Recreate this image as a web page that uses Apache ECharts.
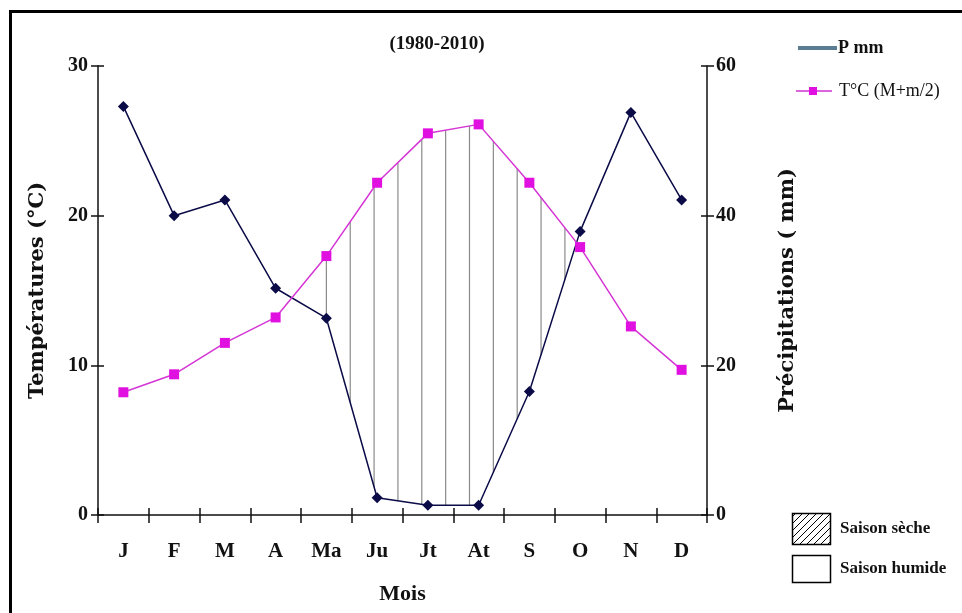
<!DOCTYPE html>
<html>
<head>
<meta charset="utf-8">
<script src="https://cdn.jsdelivr.net/npm/echarts@6/dist/echarts.min.js"></script>
<style>
  html, body { margin: 0; padding: 0; background: #fff; }
  #chart { width: 962px; height: 613px; }
</style>
</head>
<body>
<div id="chart"></div>
<script>
// mois
const months = ['J', 'F', 'M', 'A', 'Ma', 'Ju', 'Jt', 'At', 'S', 'O', 'N', 'D']
// T°C (M+m/2)
const tempC = [8.2, 9.4, 11.5, 13.2, 17.3, 22.2, 25.5, 26.1, 22.2, 17.9, 12.6, 9.7]
// P mm
const precipMm = [54.6, 40.0, 42.1, 30.3, 26.3, 2.3, 1.3, 1.3, 16.5, 37.9, 53.8, 42.1]
const tempTicks = [0, 10, 20, 30]
const precipTicks = [0, 20, 40, 60]

const serif = 'Liberation Serif'
const ink = '#111'

// traits verticaux de la saison seche (T > P/2)
const hatchFrom = 4
const hatchTo = 8.7
const hatchStep = 0.47
const hatchPos = []
for (let p = hatchFrom; p <= hatchTo + 1e-9; p += hatchStep) hatchPos.push(p)

function interp(arr, p) {
  const i = Math.floor(p)
  const f = p - i
  if (i + 1 >= arr.length) return arr[arr.length - 1]
  return arr[i] + (arr[i + 1] - arr[i]) * f
}

const chart = echarts.init(document.getElementById('chart'))

const axisLine = { show: true, lineStyle: { color: ink, width: 1.5 } }
const nameStyle = { fontFamily: 'DejaVu Serif', fontWeight: 'bold', fontSize: 21, color: ink }

chart.setOption({
  animation: false,
  grid: { left: 98, right: 255, top: 66, bottom: 98 },
  graphic: [
    // cadre
    { type: 'polyline', shape: { points: [[10.5, 613], [10.5, 11.5], [962, 11.5]] }, style: { stroke: '#000', lineWidth: 3, fill: null } },
    { type: 'text', x: 437, y: 44, style: { text: '(1980-2010)', font: 'bold 19px "Liberation Serif"', fill: ink, align: 'center', verticalAlign: 'middle' } },
    // legende
    { type: 'line', shape: { x1: 798, y1: 48, x2: 837, y2: 48 }, style: { stroke: '#5a7d94', lineWidth: 4 } },
    { type: 'text', x: 838, y: 48, style: { text: 'P mm', font: 'bold 18px "Liberation Serif"', fill: ink, verticalAlign: 'middle' } },
    { type: 'line', shape: { x1: 796, y1: 91, x2: 832, y2: 91 }, style: { stroke: '#d030d0', lineWidth: 1.5 } },
    { type: 'rect', shape: { x: 809, y: 87, width: 8, height: 8 }, style: { fill: '#e010e0' } },
    { type: 'text', x: 839, y: 91, style: { text: 'T°C (M+m/2)', font: '18px "Liberation Serif"', fill: ink, verticalAlign: 'middle' } },
    { type: 'rect', shape: { x: 792.5, y: 513.5, width: 38, height: 31 }, style: { fill: { image: hatchPattern(), repeat: 'repeat' }, stroke: '#000', lineWidth: 1.5 } },
    { type: 'text', x: 840, y: 529, style: { text: 'Saison sèche', font: 'bold 17px "Liberation Sans Narrow", "Liberation Serif"', fill: ink, verticalAlign: 'middle' } },
    { type: 'rect', shape: { x: 792.5, y: 555.5, width: 38, height: 27 }, style: { fill: '#fff', stroke: '#000', lineWidth: 1.5 } },
    { type: 'text', x: 840, y: 569, style: { text: 'Saison humide', font: 'bold 17px "Liberation Sans Narrow", "Liberation Serif"', fill: ink, verticalAlign: 'middle' } },
  ],
  xAxis: [
    {
      type: 'category',
      data: months,
      boundaryGap: true,
      name: 'Mois',
      nameLocation: 'middle',
      nameGap: 68,
      nameTextStyle: { fontFamily: serif, fontWeight: 'bold', fontSize: 22, color: ink },
      axisLine,
      axisTick: { show: true, length: 8, lineStyle: { color: ink, width: 1.5 } },
      axisLabel: { margin: 26, fontFamily: serif, fontWeight: 'bold', fontSize: 21, color: ink },
    },
    {
      type: 'category',
      data: months,
      position: 'bottom',
      boundaryGap: true,
      axisLine: { show: false },
      axisTick: { show: true, inside: true, length: 7, lineStyle: { color: ink, width: 1.5 } },
      axisLabel: { show: false },
    },
  ],
  yAxis: [
    {
      type: 'value',
      min: tempTicks[0],
      max: tempTicks[tempTicks.length - 1],
      interval: 10,
      name: 'Températures (°C)',
      nameLocation: 'middle',
      nameRotate: 90,
      nameGap: 50,
      nameTextStyle: nameStyle,
      splitLine: { show: false },
      axisLine,
      axisTick: { show: true, length: 7, lineStyle: { color: ink, width: 1.5 } },
      axisLabel: { margin: 10, fontFamily: serif, fontWeight: 'bold', fontSize: 20, color: ink },
    },
    {
      type: 'value',
      position: 'right',
      min: precipTicks[0],
      max: precipTicks[precipTicks.length - 1],
      interval: 20,
      name: 'Précipitations ( mm)',
      nameLocation: 'middle',
      nameRotate: 90,
      nameGap: 70,
      nameTextStyle: nameStyle,
      splitLine: { show: false },
      axisLine,
      axisTick: { show: true, length: 7, lineStyle: { color: ink, width: 1.5 } },
      axisLabel: { margin: 9, fontFamily: serif, fontWeight: 'bold', fontSize: 20, color: ink },
    },
    {
      type: 'value', min: 0, max: 30, interval: 10, position: 'left',
      axisLine: { show: false }, splitLine: { show: false }, axisLabel: { show: false },
      axisTick: { show: true, inside: true, length: 6, lineStyle: { color: ink, width: 1.5 } },
    },
    {
      type: 'value', min: 0, max: 60, interval: 20, position: 'right',
      axisLine: { show: false }, splitLine: { show: false }, axisLabel: { show: false },
      axisTick: { show: true, inside: true, length: 6, lineStyle: { color: ink, width: 1.5 } },
    },
  ],
  series: [
    {
      type: 'custom',
      name: 'hachures',
      yAxisIndex: 0,
      z: 1,
      silent: true,
      data: hatchPos.map(p => ({ value: [0, 0, p] })),
      renderItem(params, api) {
        const p = api.value(2)
        const t = interp(tempC, p)
        const r = interp(precipMm, p) / 2
        if (t <= r) return
        const i0 = Math.floor(p)
        const i1 = Math.min(i0 + 1, months.length - 1)
        const xa = api.coord([i0, 0])[0]
        const xb = api.coord([i1, 0])[0]
        const x = xa + (xb - xa) * (p - i0)
        const y1 = api.coord([i0, t])[1]
        const y2 = api.coord([i0, r])[1]
        return {
          type: 'line',
          shape: { x1: x, y1, x2: x, y2 },
          style: { stroke: '#8a8a8a', lineWidth: 1.2 },
        }
      },
    },
    {
      type: 'line',
      name: 'P mm',
      yAxisIndex: 1,
      z: 3,
      data: precipMm,
      symbol: 'diamond',
      symbolSize: 11,
      lineStyle: { color: '#0b0b48', width: 1.5 },
      itemStyle: { color: '#0b0b48' },
    },
    {
      type: 'line',
      name: 'T°C (M+m/2)',
      yAxisIndex: 0,
      z: 4,
      data: tempC,
      symbol: 'rect',
      symbolSize: 10,
      lineStyle: { color: '#d535d5', width: 1.5 },
      itemStyle: { color: '#e010e0' },
    },
  ],
})

function hatchPattern() {
  const c = document.createElement('canvas')
  c.width = 7
  c.height = 7
  const g = c.getContext('2d')
  g.fillStyle = '#fff'
  g.fillRect(0, 0, 7, 7)
  g.strokeStyle = '#000'
  g.lineWidth = 1
  g.beginPath()
  g.moveTo(-1, 8); g.lineTo(8, -1)
  g.moveTo(-1, 1); g.lineTo(1, -1)
  g.moveTo(6, 8); g.lineTo(8, 6)
  g.stroke()
  return c
}
</script>
</body>
</html>
